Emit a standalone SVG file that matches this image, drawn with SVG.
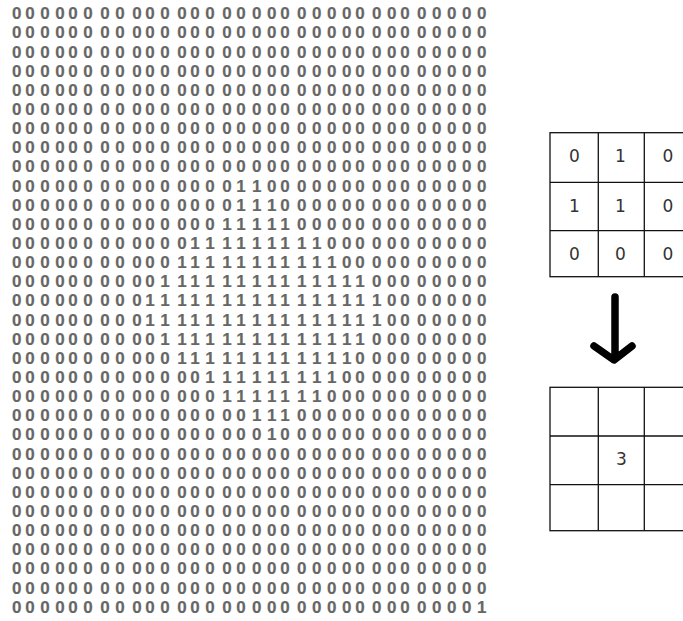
<svg xmlns="http://www.w3.org/2000/svg" width="683" height="621" viewBox="0 0 683 621">
<style>
.bits text{font-family:"Liberation Sans",Arial,sans-serif;font-size:17px;font-weight:bold;fill:#666;stroke:#777;stroke-width:0.2;text-anchor:middle}
.cell{fill:none;stroke:#111;stroke-width:1.3}
.num{font-family:"DejaVu Sans",Verdana,sans-serif;font-size:17px;fill:#333;text-anchor:middle}
.arrow{fill:none;stroke:#000;stroke-width:7.5;stroke-linecap:round;stroke-linejoin:round}
</style>
<rect width="683" height="621" fill="#fff"/>
<g id="bitmap" class="bits">
<text y="19.3" x="16.7 30 45 60 73 88 105 120 137 150 165 182 195 210 227 241 256.7 271.7 285 301.7 316.7 331.7 346.7 360 376.7 391.7 405 421.7 436.7 451.7 466.7 481.7">00000000000000000000000000000000</text>
<text y="38.4" x="16.7 30 45 60 73 88 105 120 137 150 165 182 195 210 227 241 256.7 271.7 285 301.7 316.7 331.7 346.7 360 376.7 391.7 405 421.7 436.7 451.7 466.7 481.7">00000000000000000000000000000000</text>
<text y="57.6" x="16.7 30 45 60 73 88 105 120 137 150 165 182 195 210 227 241 256.7 271.7 285 301.7 316.7 331.7 346.7 360 376.7 391.7 405 421.7 436.7 451.7 466.7 481.7">00000000000000000000000000000000</text>
<text y="76.7" x="16.7 30 45 60 73 88 105 120 137 150 165 182 195 210 227 241 256.7 271.7 285 301.7 316.7 331.7 346.7 360 376.7 391.7 405 421.7 436.7 451.7 466.7 481.7">00000000000000000000000000000000</text>
<text y="95.9" x="16.7 30 45 60 73 88 105 120 137 150 165 182 195 210 227 241 256.7 271.7 285 301.7 316.7 331.7 346.7 360 376.7 391.7 405 421.7 436.7 451.7 466.7 481.7">00000000000000000000000000000000</text>
<text y="115" x="16.7 30 45 60 73 88 105 120 137 150 165 182 195 210 227 241 256.7 271.7 285 301.7 316.7 331.7 346.7 360 376.7 391.7 405 421.7 436.7 451.7 466.7 481.7">00000000000000000000000000000000</text>
<text y="134.1" x="16.7 30 45 60 73 88 105 120 137 150 165 182 195 210 227 241 256.7 271.7 285 301.7 316.7 331.7 346.7 360 376.7 391.7 405 421.7 436.7 451.7 466.7 481.7">00000000000000000000000000000000</text>
<text y="153.3" x="16.7 30 45 60 73 88 105 120 137 150 165 182 195 210 227 241 256.7 271.7 285 301.7 316.7 331.7 346.7 360 376.7 391.7 405 421.7 436.7 451.7 466.7 481.7">00000000000000000000000000000000</text>
<text y="172.4" x="16.7 30 45 60 73 88 105 120 137 150 165 182 195 210 227 241 256.7 271.7 285 301.7 316.7 331.7 346.7 360 376.7 391.7 405 421.7 436.7 451.7 466.7 481.7">00000000000000000000000000000000</text>
<text y="191.6" x="16.7 30 45 60 73 88 105 120 137 150 165 182 195 210 227 241 256.7 271.7 285 301.7 316.7 331.7 346.7 360 376.7 391.7 405 421.7 436.7 451.7 466.7 481.7">00000000000000011000000000000000</text>
<text y="210.7" x="16.7 30 45 60 73 88 105 120 137 150 165 182 195 210 227 241 256.7 271.7 285 301.7 316.7 331.7 346.7 360 376.7 391.7 405 421.7 436.7 451.7 466.7 481.7">00000000000000011100000000000000</text>
<text y="229.8" x="16.7 30 45 60 73 88 105 120 137 150 165 182 195 210 227 241 256.7 271.7 285 301.7 316.7 331.7 346.7 360 376.7 391.7 405 421.7 436.7 451.7 466.7 481.7">00000000000000111110000000000000</text>
<text y="249" x="16.7 30 45 60 73 88 105 120 137 150 165 182 195 210 227 241 256.7 271.7 285 301.7 316.7 331.7 346.7 360 376.7 391.7 405 421.7 436.7 451.7 466.7 481.7">00000000000011111111100000000000</text>
<text y="268.1" x="16.7 30 45 60 73 88 105 120 137 150 165 182 195 210 227 241 256.7 271.7 285 301.7 316.7 331.7 346.7 360 376.7 391.7 405 421.7 436.7 451.7 466.7 481.7">00000000000111111111110000000000</text>
<text y="287.3" x="16.7 30 45 60 73 88 105 120 137 150 165 182 195 210 227 241 256.7 271.7 285 301.7 316.7 331.7 346.7 360 376.7 391.7 405 421.7 436.7 451.7 466.7 481.7">00000000001111111111111100000000</text>
<text y="306.4" x="16.7 30 45 60 73 88 105 120 137 150 165 182 195 210 227 241 256.7 271.7 285 301.7 316.7 331.7 346.7 360 376.7 391.7 405 421.7 436.7 451.7 466.7 481.7">00000000011111111111111110000000</text>
<text y="325.5" x="16.7 30 45 60 73 88 105 120 137 150 165 182 195 210 227 241 256.7 271.7 285 301.7 316.7 331.7 346.7 360 376.7 391.7 405 421.7 436.7 451.7 466.7 481.7">00000000011111111111111110000000</text>
<text y="344.7" x="16.7 30 45 60 73 88 105 120 137 150 165 182 195 210 227 241 256.7 271.7 285 301.7 316.7 331.7 346.7 360 376.7 391.7 405 421.7 436.7 451.7 466.7 481.7">00000000001111111111111100000000</text>
<text y="363.8" x="16.7 30 45 60 73 88 105 120 137 150 165 182 195 210 227 241 256.7 271.7 285 301.7 316.7 331.7 346.7 360 376.7 391.7 405 421.7 436.7 451.7 466.7 481.7">00000000000111111111111000000000</text>
<text y="383" x="16.7 30 45 60 73 88 105 120 137 150 165 182 195 210 227 241 256.7 271.7 285 301.7 316.7 331.7 346.7 360 376.7 391.7 405 421.7 436.7 451.7 466.7 481.7">00000000000001111111110000000000</text>
<text y="402.1" x="16.7 30 45 60 73 88 105 120 137 150 165 182 195 210 227 241 256.7 271.7 285 301.7 316.7 331.7 346.7 360 376.7 391.7 405 421.7 436.7 451.7 466.7 481.7">00000000000000111111100000000000</text>
<text y="421.2" x="16.7 30 45 60 73 88 105 120 137 150 165 182 195 210 227 241 256.7 271.7 285 301.7 316.7 331.7 346.7 360 376.7 391.7 405 421.7 436.7 451.7 466.7 481.7">00000000000000001110000000000000</text>
<text y="440.4" x="16.7 30 45 60 73 88 105 120 137 150 165 182 195 210 227 241 256.7 271.7 285 301.7 316.7 331.7 346.7 360 376.7 391.7 405 421.7 436.7 451.7 466.7 481.7">00000000000000000100000000000000</text>
<text y="459.5" x="16.7 30 45 60 73 88 105 120 137 150 165 182 195 210 227 241 256.7 271.7 285 301.7 316.7 331.7 346.7 360 376.7 391.7 405 421.7 436.7 451.7 466.7 481.7">00000000000000000000000000000000</text>
<text y="478.7" x="16.7 30 45 60 73 88 105 120 137 150 165 182 195 210 227 241 256.7 271.7 285 301.7 316.7 331.7 346.7 360 376.7 391.7 405 421.7 436.7 451.7 466.7 481.7">00000000000000000000000000000000</text>
<text y="497.8" x="16.7 30 45 60 73 88 105 120 137 150 165 182 195 210 227 241 256.7 271.7 285 301.7 316.7 331.7 346.7 360 376.7 391.7 405 421.7 436.7 451.7 466.7 481.7">00000000000000000000000000000000</text>
<text y="516.9" x="16.7 30 45 60 73 88 105 120 137 150 165 182 195 210 227 241 256.7 271.7 285 301.7 316.7 331.7 346.7 360 376.7 391.7 405 421.7 436.7 451.7 466.7 481.7">00000000000000000000000000000000</text>
<text y="536.1" x="16.7 30 45 60 73 88 105 120 137 150 165 182 195 210 227 241 256.7 271.7 285 301.7 316.7 331.7 346.7 360 376.7 391.7 405 421.7 436.7 451.7 466.7 481.7">00000000000000000000000000000000</text>
<text y="555.2" x="16.7 30 45 60 73 88 105 120 137 150 165 182 195 210 227 241 256.7 271.7 285 301.7 316.7 331.7 346.7 360 376.7 391.7 405 421.7 436.7 451.7 466.7 481.7">00000000000000000000000000000000</text>
<text y="574.4" x="16.7 30 45 60 73 88 105 120 137 150 165 182 195 210 227 241 256.7 271.7 285 301.7 316.7 331.7 346.7 360 376.7 391.7 405 421.7 436.7 451.7 466.7 481.7">00000000000000000000000000000000</text>
<text y="593.5" x="16.7 30 45 60 73 88 105 120 137 150 165 182 195 210 227 241 256.7 271.7 285 301.7 316.7 331.7 346.7 360 376.7 391.7 405 421.7 436.7 451.7 466.7 481.7">00000000000000000000000000000000</text>
<text y="612.6" x="16.7 30 45 60 73 88 105 120 137 150 165 182 195 210 227 241 256.7 271.7 285 301.7 316.7 331.7 346.7 360 376.7 391.7 405 421.7 436.7 451.7 466.7 481.7">00000000000000000000000000000001</text>
</g>
<g id="kernel">
<rect class="cell" x="550" y="132.7" width="142" height="144"/>
<line class="cell" x1="598.3" y1="132.7" x2="598.3" y2="276.7"/>
<line class="cell" x1="644.3" y1="132.7" x2="644.3" y2="276.7"/>
<line class="cell" x1="550" y1="182.3" x2="692" y2="182.3"/>
<line class="cell" x1="550" y1="230.7" x2="692" y2="230.7"/>
<text class="num" x="574.5" y="161.5">0</text>
<text class="num" x="620.5" y="161.5">1</text>
<text class="num" x="668" y="161.5">0</text>
<text class="num" x="574.5" y="211.5">1</text>
<text class="num" x="620.5" y="211.5">1</text>
<text class="num" x="668" y="211.5">0</text>
<text class="num" x="574.5" y="259.5">0</text>
<text class="num" x="620.5" y="259.5">0</text>
<text class="num" x="668" y="259.5">0</text>
</g>
<g id="connectors">
<path class="arrow" d="M615 297 V357 M594 346 L614 360 L632 346"/>
</g>
<g id="result">
<rect class="cell" x="550" y="387.3" width="142" height="143.4"/>
<line class="cell" x1="598.3" y1="387.3" x2="598.3" y2="530.7"/>
<line class="cell" x1="644.3" y1="387.3" x2="644.3" y2="530.7"/>
<line class="cell" x1="550" y1="436" x2="692" y2="436"/>
<line class="cell" x1="550" y1="484.7" x2="692" y2="484.7"/>
<text class="num" x="621.5" y="464.5">3</text>
</g>
</svg>
